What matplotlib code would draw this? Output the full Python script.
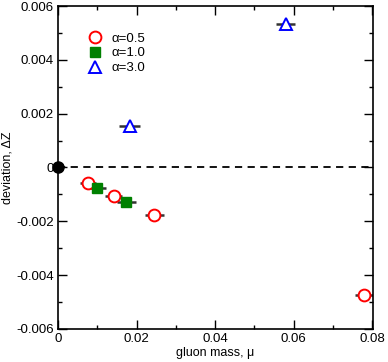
import matplotlib

matplotlib.use("Agg")
import matplotlib.pyplot as plt  # noqa: E402
from matplotlib.ticker import MultipleLocator  # noqa: E402

plt.rcParams["font.family"] = ["Liberation Sans", "DejaVu Sans"]

# alpha = 0.5 (open red circles)
mu_a05 = [0.0077, 0.0142, 0.0245, 0.0780]
dz_a05 = [-0.00057, -0.00107, -0.00176, -0.00474]
err_a05 = [0.0020, 0.0022, 0.0024, 0.0024]

# alpha = 1.0 (filled green squares)
mu_a10 = [0.0100, 0.0174]
dz_a10 = [-0.00075, -0.00127]
err_a10 = [0.0023, 0.0024]

# alpha = 3.0 (open blue triangles)
mu_a30 = [0.0183, 0.0580]
dz_a30 = [0.00153, 0.00532]
err_a30 = [0.0027, 0.0024]

x_ticks = [0, 0.02, 0.04, 0.06, 0.08]
x_labels = ["0", "0.02", "0.04", "0.06", "0.08"]
y_ticks = [-0.006, -0.004, -0.002, 0, 0.002, 0.004, 0.006]
y_labels = ["-0.006", "-0.004", "-0.002", "0", "0.002", "0.004", "0.006"]

fig = plt.figure(figsize=(3.88, 3.62), dpi=100)
ax = fig.add_axes([0.1495, 0.0912, 0.8115, 0.8922])

ax.axhline(0, color="black", linestyle=(0, (4, 3)), linewidth=1.3, zorder=1)

ebar = dict(fmt="none", ecolor="0.2", elinewidth=1.8, capsize=0, zorder=2)
ax.errorbar(mu_a05, dz_a05, xerr=err_a05, **ebar)
ax.errorbar(mu_a10, dz_a10, xerr=err_a10, **ebar)
ax.errorbar(mu_a30, dz_a30, xerr=err_a30, **ebar)

ax.plot(mu_a05, dz_a05, "o", ms=8.5, mfc="white", mec="red", mew=1.4,
        linestyle="none", label="α=0.5", zorder=3)
ax.plot(mu_a10, dz_a10, "s", ms=7.5, mfc="green", mec="green", mew=1.0,
        linestyle="none", label="α=1.0", zorder=3)
ax.plot(mu_a30, dz_a30, "^", ms=8.5, mfc="white", mec="blue", mew=1.4,
        linestyle="none", label="α=3.0", zorder=3)
ax.plot([0], [0], "o", ms=8, color="black", clip_on=False, zorder=4)

ax.set_xlim(0, 0.0802)
ax.set_ylim(-0.006, 0.006)
ax.set_xticks(x_ticks)
ax.set_xticklabels(x_labels)
ax.set_yticks(y_ticks)
ax.set_yticklabels(y_labels)
ax.xaxis.set_minor_locator(MultipleLocator(0.01))
ax.yaxis.set_minor_locator(MultipleLocator(0.001))

ax.tick_params(which="both", direction="in", top=True, right=True,
               labelsize=9.5, width=1.0, pad=3)
ax.tick_params(which="major", length=6.3)
ax.tick_params(which="minor", length=3.2)
for sp in ax.spines.values():
    sp.set_linewidth(1.2)

ax.set_xlabel("gluon mass, μ", fontsize=9, labelpad=1)
ax.set_ylabel("deviation, ΔZ", fontsize=9, labelpad=2)

ax.legend(loc="upper left", bbox_to_anchor=(0.076, 0.935), frameon=False,
          fontsize=9.5, handletextpad=0.65, labelspacing=0.2,
          handlelength=1.2, borderaxespad=0)

fig.savefig("out.png", dpi=100)
